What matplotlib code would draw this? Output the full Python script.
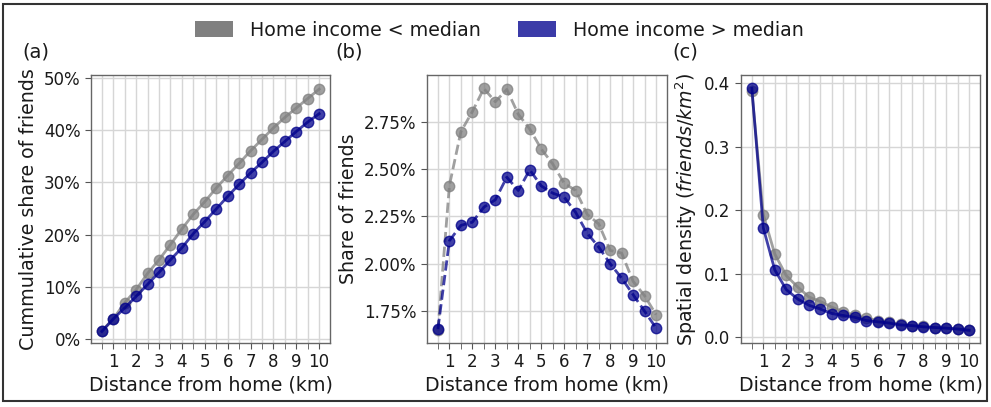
import numpy as np
import matplotlib
matplotlib.use("Agg")
import matplotlib.pyplot as plt
from matplotlib.patches import Patch, Rectangle
from matplotlib.ticker import PercentFormatter, MultipleLocator, FormatStrFormatter

plt.rcParams['font.family'] = ['DejaVu Sans']

# Distance bins (km), every 0.5 km
distance = [0.5, 1.0, 1.5, 2.0, 2.5, 3.0, 3.5, 4.0, 4.5, 5.0,
            5.5, 6.0, 6.5, 7.0, 7.5, 8.0, 8.5, 9.0, 9.5, 10.0]

# (a) cumulative share of friends (%)
cum_low = [1.65, 3.9, 7.0, 9.5, 12.6, 15.2, 18.1, 21.1, 23.9, 26.3,
           28.9, 31.3, 33.6, 36.0, 38.2, 40.4, 42.4, 44.2, 46.0, 47.8]
cum_high = [1.5, 3.9, 6.0, 8.2, 10.5, 12.8, 15.2, 17.5, 20.2, 22.5,
            24.9, 27.3, 29.6, 31.8, 33.8, 35.9, 37.8, 39.7, 41.5, 43.1]

# (b) share of friends per bin (%)
share_low = [1.65, 2.413, 2.697, 2.803, 2.925, 2.855, 2.920, 2.789, 2.711, 2.606,
             2.527, 2.425, 2.387, 2.261, 2.211, 2.071, 2.057, 1.908, 1.832, 1.732]
share_high = [1.657, 2.122, 2.203, 2.220, 2.299, 2.338, 2.457, 2.387, 2.496, 2.411,
              2.373, 2.352, 2.271, 2.162, 2.089, 2.001, 1.925, 1.838, 1.750, 1.662]

# (c) spatial density (friends / km^2)
dens_low = [0.387, 0.193, 0.131, 0.097, 0.079, 0.063, 0.056, 0.047, 0.040, 0.034,
            0.030, 0.026, 0.023, 0.020, 0.018, 0.017, 0.015, 0.014, 0.013, 0.0115]
dens_high = [0.392, 0.172, 0.106, 0.075, 0.060, 0.050, 0.044, 0.037, 0.034, 0.031,
             0.026, 0.024, 0.022, 0.019, 0.018, 0.016, 0.015, 0.014, 0.0126, 0.0105]

legend_labels = ["Home income < median", "Home income > median"]
xticks = [1, 2, 3, 4, 5, 6, 7, 8, 9, 10]

C_LOW = "grey"
C_HIGH = "darkblue"
ALPHA = 0.75

W, H = 991, 407
fig = plt.figure(figsize=(W / 100, H / 100), dpi=100)


def add_axes(left, right, top=75, bottom=343):
    return fig.add_axes([left / W, 1 - bottom / H, (right - left) / W, (bottom - top) / H])


ax_a = add_axes(91, 330)
ax_b = add_axes(427, 667)
ax_c = add_axes(741, 980)

panels = [
    (ax_a, cum_low, cum_high, "-", "Cummulative share of friends"),
    (ax_b, share_low, share_high, "--", "Share of friends"),
    (ax_c, dens_low, dens_high, "-", "Spatial density ($friends/km^2$)"),
]

for ax, lo, hi, ls, ylab in panels:
    ax.plot(distance, lo, ls, color=C_LOW, alpha=ALPHA, lw=2.0,
            marker="o", markersize=7.5, zorder=3)
    ax.plot(distance, hi, ls, color=C_HIGH, alpha=ALPHA, lw=2.0,
            marker="o", markersize=7.5, zorder=4)
    ax.set_xticks(xticks)
    ax.xaxis.set_minor_locator(MultipleLocator(0.5))
    ax.grid(True, which="both", axis="x", color="#d6d6d6", lw=1.0)
    ax.grid(True, which="major", axis="y", color="#d6d6d6", lw=1.0)
    ax.set_axisbelow(True)
    ax.tick_params(axis="both", which="both", labelsize=12, length=4,
                   color="#555555", labelcolor="#1a1a1a")
    ax.set_xlabel("Distance from home (km)", fontsize=13.7, color="#1a1a1a", labelpad=3)
    ax.set_ylabel(ylab, fontsize=13.7, color="#1a1a1a", labelpad=4)
    for s in ax.spines.values():
        s.set_color("#666666")
        s.set_linewidth(1.0)
    ax.set_xlim(0.025, 10.475)

ax_a.set_ylim(-0.7, 50.5)
ax_a.yaxis.set_major_locator(MultipleLocator(10))
ax_a.yaxis.set_major_formatter(PercentFormatter(decimals=0))

ax_b.set_ylim(1.583, 2.996)
ax_b.yaxis.set_major_locator(MultipleLocator(0.25))
ax_b.yaxis.set_major_formatter(PercentFormatter(decimals=2))

ax_c.set_ylim(-0.0094, 0.413)
ax_c.yaxis.set_major_locator(MultipleLocator(0.1))
ax_c.yaxis.set_major_formatter(FormatStrFormatter("%.1f"))

# Panel letters
for x_px, letter in [(22, "(a)"), (335, "(b)"), (672, "(c)")]:
    fig.text(x_px / W, 1 - 52 / H, letter, fontsize=14, color="#1a1a1a",
             ha="left", va="center")

# Shared legend
handles = [Patch(facecolor="#808080", edgecolor="none"),
           Patch(facecolor="#3b3ba8", edgecolor="none")]
fig.legend(handles, legend_labels, loc="center", bbox_to_anchor=(0.5 + 4 / W, 1 - 30 / H),
           ncol=2, frameon=False, fontsize=13.7, handlelength=2.0, handleheight=0.9,
           columnspacing=1.95, handletextpad=0.9, labelcolor="#1a1a1a")

# Outer frame
fig.patches.append(Rectangle((3 / W, 1 - 401 / H), 984 / W, 397 / H,
                             transform=fig.transFigure, fill=False,
                             edgecolor="#333333", linewidth=1.5))

fig.savefig("out.png", dpi=100)
